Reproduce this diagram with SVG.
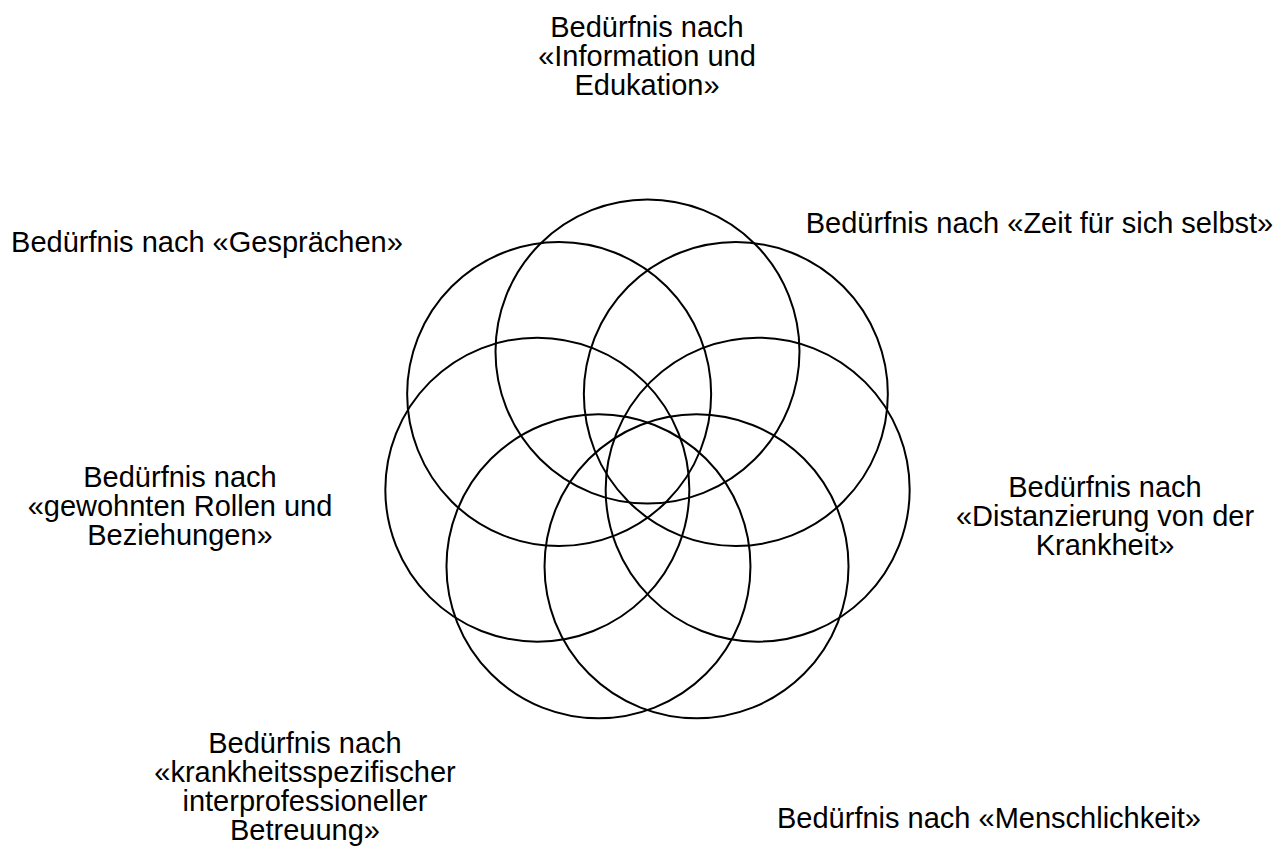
<svg xmlns="http://www.w3.org/2000/svg" width="1284" height="850" viewBox="0 0 1284 850">
<style>
.c{fill:none;stroke:#000;stroke-width:2}
.t{font-family:"Liberation Sans",Arial,sans-serif;font-size:29px;fill:#000;text-anchor:middle}
</style>
<rect width="1284" height="850" fill="#fff"/>
<g id="n-information">
<circle class="c" cx="647.5" cy="351.5" r="152"/>
<text class="t" x="647" y="37">Bedürfnis nach</text>
<text class="t" x="647" y="66">«Information und</text>
<text class="t" x="647" y="95">Edukation»</text>
</g>
<g id="n-zeit">
<circle class="c" cx="735.85" cy="394.05" r="152"/>
<text class="t" x="1039.5" y="233">Bedürfnis nach «Zeit für sich selbst»</text>
</g>
<g id="n-distanzierung">
<circle class="c" cx="757.67" cy="489.64" r="152"/>
<text class="t" x="1105" y="497">Bedürfnis nach</text>
<text class="t" x="1105" y="526">«Distanzierung von der</text>
<text class="t" x="1105" y="555">Krankheit»</text>
</g>
<g id="n-menschlichkeit">
<circle class="c" cx="696.53" cy="566.31" r="152"/>
<text class="t" x="989" y="828">Bedürfnis nach «Menschlichkeit»</text>
</g>
<g id="n-betreuung">
<circle class="c" cx="598.47" cy="566.31" r="152"/>
<text class="t" x="305" y="753">Bedürfnis nach</text>
<text class="t" x="305" y="782">«krankheitsspezifischer</text>
<text class="t" x="305" y="811">interprofessioneller</text>
<text class="t" x="305" y="840">Betreuung»</text>
</g>
<g id="n-rollen">
<circle class="c" cx="537.33" cy="489.64" r="152"/>
<text class="t" x="180" y="487">Bedürfnis nach</text>
<text class="t" x="180" y="516">«gewohnten Rollen und</text>
<text class="t" x="180" y="545">Beziehungen»</text>
</g>
<g id="n-gespraeche">
<circle class="c" cx="559.15" cy="394.05" r="152"/>
<text class="t" x="207" y="252">Bedürfnis nach «Gesprächen»</text>
</g>
</svg>
